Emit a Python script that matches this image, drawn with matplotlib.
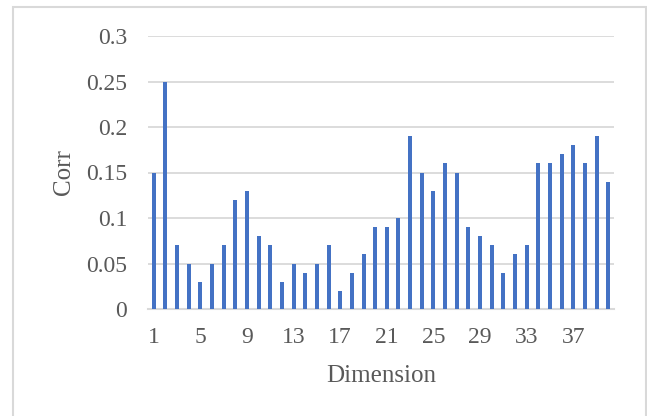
import matplotlib
matplotlib.use("Agg")
import matplotlib.pyplot as plt
from matplotlib.patches import Rectangle

dims = list(range(1, 41))
corr = [0.15, 0.25, 0.07, 0.05, 0.03, 0.05, 0.07, 0.12, 0.13, 0.08,
        0.07, 0.03, 0.05, 0.04, 0.05, 0.07, 0.02, 0.04, 0.06, 0.09,
        0.09, 0.10, 0.19, 0.15, 0.13, 0.16, 0.15, 0.09, 0.08, 0.07,
        0.04, 0.06, 0.07, 0.16, 0.16, 0.17, 0.18, 0.16, 0.19, 0.14]
xtick_dims = [1, 5, 9, 13, 17, 21, 25, 29, 33, 37]
yticks = [0, 0.05, 0.1, 0.15, 0.2, 0.25, 0.3]
ytick_labels = ["0", "0.05", "0.1", "0.15", "0.2", "0.25", "0.3"]

plt.rcParams["font.family"] = ["Liberation Serif", "DejaVu Serif"]
TXT = "#595959"
GRID = "#d9d9d9"

W, H = 647, 416
fig = plt.figure(figsize=(W / 100, H / 100), dpi=100)
ax = fig.add_axes([148 / W, 1 - 309 / H, 466 / W, 273 / H])

ax.bar(dims, corr, width=0.34, color="#4472c4", zorder=3)

ax.set_xlim(0.5, 40.5)
ax.set_ylim(0, 0.3)
ax.set_yticks(yticks)
ax.set_yticklabels(ytick_labels)
ax.set_xticks(xtick_dims)
ax.set_xticklabels([str(d) for d in xtick_dims])
ax.tick_params(axis="both", length=0, labelsize=17, labelcolor=TXT)
ax.tick_params(axis="y", pad=15)
ax.tick_params(axis="x", pad=13)

for y in yticks[1:]:
    ax.axhline(y, color=GRID, lw=1.3, zorder=1)
for side in ["top", "right", "left"]:
    ax.spines[side].set_visible(False)
ax.spines["bottom"].set_color(GRID)
ax.spines["bottom"].set_linewidth(1.5)

ax.set_xlabel("Dimension", fontsize=18, color=TXT)
ax.set_ylabel("Corr", fontsize=18, color=TXT)
ax.xaxis.set_label_coords(0.5, -(365 - 309) / 273)
ax.yaxis.set_label_coords((75 - 148) / 466, 0.5)

# chart area border (bottom edge falls outside the image)
fig.patches.append(Rectangle((13 / W, -0.05), (646 - 13) / W, 1.05 - 7 / H,
                             transform=fig.transFigure, fill=False,
                             edgecolor=GRID, lw=1.5))

fig.savefig("out.png", dpi=100)
